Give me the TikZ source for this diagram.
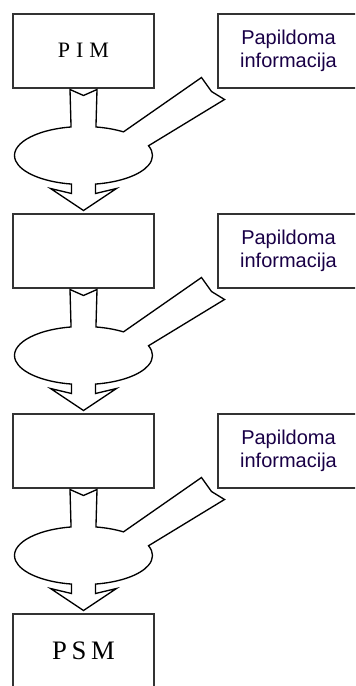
\documentclass[tikz,border=0pt]{standalone}
\usepackage{fontspec}
\setmainfont{Liberation Serif}
\newfontfamily\infofont{Liberation Sans}
\definecolor{infotext}{RGB}{25,0,70}

\begin{document}
\begin{tikzpicture}[
    x=0.75pt, y=-0.75pt,
    model/.style={rectangle, draw=black!80, line width=1.5pt, minimum width=106pt, minimum height=55.5pt, inner sep=0pt, font=\fontsize{16.5}{19}\selectfont},
    info/.style={model, text=infotext, align=center, font=\infofont\fontsize{15}{17.25}\selectfont},
    blobline/.style={draw, line width=1pt, line join=miter, fill=white},
    flow/.pic={
        \path [blobline] (-13.5,1) -- ([shift={(0,67)}]259.6:69 and 29)
            arc [start angle=259.6, end angle=100, x radius=69, y radius=29]
            -- (-12,105) -- (-33,100) -- (0,122) -- (33,100) -- (12,105)
            -- ([shift={(0,67)}]80:69 and 29)
            arc [start angle=80, end angle=-19.6, x radius=69, y radius=29]
            -- (141,11) -- (128,3) -- (118,-11)
            -- ([shift={(0,67)}]-54.6:69 and 29)
            arc [start angle=-54.6, end angle=-79.6, x radius=69, y radius=29]
            -- (13.5,1) -- (0,7) -- cycle;
    }
    ]
    \useasboundingbox (0,0) rectangle (355,686);
    \clip (0,0) rectangle (355,686);

    \node [model] (pim) at (83.5,50.5) {P\kern4.5pt I\kern4.5pt M};
    \node [model] (mid1) at (83.5,250.5) {};
    \node [model] (mid2) at (83.5,450.5) {};
    \node [model, font=\fontsize{20}{23}\selectfont] (psm) at (83.5,650.5) {P\kern3.5pt S\kern3.5pt M};

    \node [info] (info1) at (288.5,50.5) {Papildoma\\informacija};
    \node [info] (info2) at (288.5,250.5) {Papildoma\\informacija};
    \node [info] (info3) at (288.5,450.5) {Papildoma\\informacija};

    \pic at (pim.south) {flow};
    \pic at (mid1.south) {flow};
    \pic at (mid2.south) {flow};
\end{tikzpicture}
\end{document}
